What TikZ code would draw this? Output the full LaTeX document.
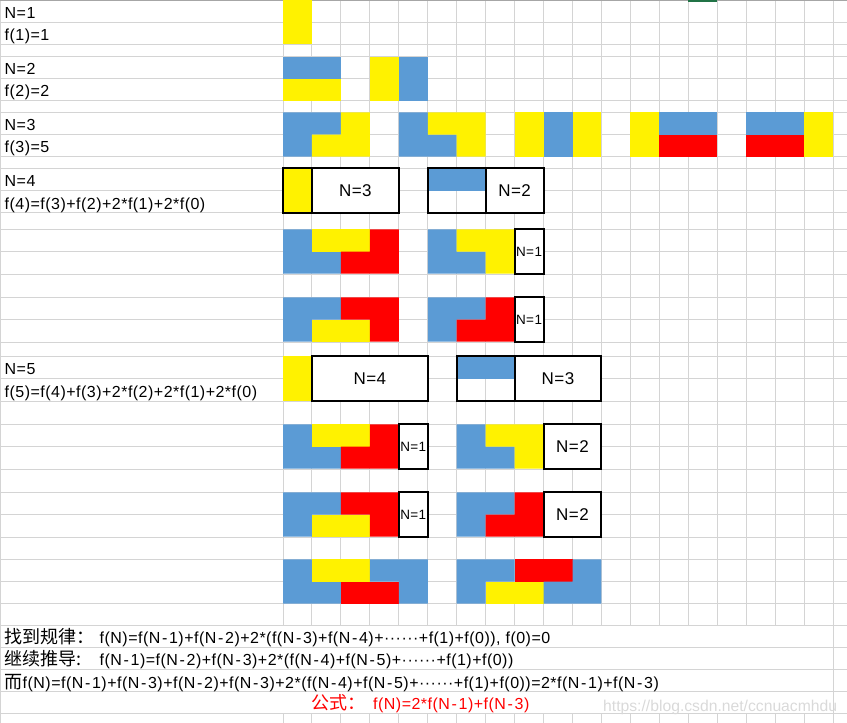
\documentclass[tikz,border=0pt]{standalone}
\usepackage{fontspec}
\setmainfont{Liberation Sans}[LetterSpace=3]
\newfontfamily\cjk{Noto Sans CJK SC}
\newfontfamily\markfont{Liberation Sans}
\newcommand\hanzi[1]{{\cjk\fontsize{18}{20}\selectfont #1}}
\newcommand\hy{\kern1.7pt-\kern1.7pt}
\definecolor{tileblue}{HTML}{5B9BD5}
\definecolor{gridgray}{HTML}{D4D4D4}
\definecolor{topgray}{HTML}{A6A6A6}
\definecolor{selgreen}{HTML}{217346}
\definecolor{markgray}{HTML}{D9D9D9}
\tikzset{
  gridline/.style={draw=gridgray, line width=1pt},
  frame/.style={draw=black, line width=2pt},
  textbox/.style={frame, fill=white},
  celltext/.style={anchor=base west, inner sep=0pt, font=\fontsize{16}{19}\selectfont},
  boxtext/.style={inner sep=0pt, font=\fontsize{17}{20}\selectfont},
  smalltext/.style={inner sep=0pt, font=\fontsize{13.5}{16}\selectfont},
  pair/.style={shift={(283,#1)}, x=28.95pt, y=-22.2pt},
}
\begin{document}
\begin{tikzpicture}[x=1pt, y=-1pt]
\useasboundingbox (0,0) rectangle (847,723);
% sheet grid
\foreach \r in {22.3,44.3,56.7,78.3,100.3,112.3,134.3,156.3,168.3,190.3,212.7,
    229.3,251.3,274,297.3,319.3,342.3,356.3,378.3,401.3,424.3,446.7,469.3,
    492.3,514.3,537.3,559.3,581.3,603.3,625.3,647.3,669.3,691.7,713.3}
  \draw[gridline] (0,\r) -- (847,\r);
\foreach \c in {0,...,19} {
  \draw[gridline] ({283+28.95*\c},0) -- ({283+28.95*\c},625.3);
  \draw[gridline] ({283+28.95*\c},713.3) -- ({283+28.95*\c},723);
}
\draw[gridline] (0.5,0) -- (0.5,723);
\draw[gridline] ({283+28.95*19},625.3) -- ({283+28.95*19},713.3);
\draw[topgray, line width=1pt] (0,0.5) -- (847,0.5);
\draw[selgreen, line width=1.5pt] ({283+28.95*14},0.75) -- ({283+28.95*15},0.75);

% N=1
\begin{scope}[pair=0]
  \fill[yellow] (0,0) rectangle (1,2);
\end{scope}
% N=2
\begin{scope}[pair=56.7]
  \fill[tileblue] (0,0) rectangle (2,1);
  \fill[yellow] (0,1) rectangle (2,2);
  \fill[yellow] (3,0) rectangle (4,2);
  \fill[tileblue] (4,0) rectangle (5,2);
\end{scope}
% N=3
\begin{scope}[pair=112.3]
  \fill[tileblue] (0,0) -- (2,0) -- (2,1) -- (1,1) -- (1,2) -- (0,2) -- cycle;
  \fill[yellow] (2,0) -- (3,0) -- (3,2) -- (1,2) -- (1,1) -- (2,1) -- cycle;
  \fill[tileblue] (4,0) -- (5,0) -- (5,1) -- (6,1) -- (6,2) -- (4,2) -- cycle;
  \fill[yellow] (5,0) -- (7,0) -- (7,2) -- (6,2) -- (6,1) -- (5,1) -- cycle;
  \fill[yellow] (8,0) rectangle (9,2);
  \fill[tileblue] (9,0) rectangle (10,2);
  \fill[yellow] (10,0) rectangle (11,2);
  \fill[yellow] (12,0) rectangle (13,2);
  \fill[tileblue] (13,0) rectangle (15,1);
  \fill[red] (13,1) rectangle (15,2);
  \fill[tileblue] (16,0) rectangle (18,1);
  \fill[red] (16,1) rectangle (18,2);
  \fill[yellow] (18,0) rectangle (19,2);
\end{scope}
% N=4
\begin{scope}[pair=168.3]
  \fill[yellow] (0,0) rectangle (1,2);
  \draw[textbox] (1,0) rectangle (4,2);
  \draw[frame] (0,0) rectangle (4,2);
  \node[boxtext] (four3) at (2.5,1) {N=3};
  \fill[tileblue] (5,0) rectangle (7,1);
  \draw[textbox] (7,0) rectangle (9,2);
  \draw[frame] (5,0) rectangle (9,2);
  \node[boxtext] (four2) at (8,1) {N=2};
\end{scope}
\begin{scope}[pair=229.3]
  \fill[tileblue] (0,0) -- (1,0) -- (1,1) -- (2,1) -- (2,2) -- (0,2) -- cycle;
  \fill[yellow] (1,0) rectangle (3,1);
  \fill[red] (2,1) -- (3,1) -- (3,0) -- (4,0) -- (4,2) -- (2,2) -- cycle;
  \fill[tileblue] (5,0) -- (6,0) -- (6,1) -- (7,1) -- (7,2) -- (5,2) -- cycle;
  \fill[yellow] (6,0) -- (8,0) -- (8,2) -- (7,2) -- (7,1) -- (6,1) -- cycle;
  \draw[textbox] (8,0) rectangle (9,2);
  \node[smalltext] (four1a) at (8.5,1) {N=1};
\end{scope}
\begin{scope}[pair=297.3]
  \fill[tileblue] (0,0) -- (2,0) -- (2,1) -- (1,1) -- (1,2) -- (0,2) -- cycle;
  \fill[yellow] (1,1) rectangle (3,2);
  \fill[red] (2,0) -- (4,0) -- (4,2) -- (3,2) -- (3,1) -- (2,1) -- cycle;
  \fill[tileblue] (5,0) -- (7,0) -- (7,1) -- (6,1) -- (6,2) -- (5,2) -- cycle;
  \fill[red] (7,0) -- (8,0) -- (8,2) -- (6,2) -- (6,1) -- (7,1) -- cycle;
  \draw[textbox] (8,0) rectangle (9,2);
  \node[smalltext] (four1b) at (8.5,1) {N=1};
\end{scope}
% N=5
\begin{scope}[pair=356.3]
  \fill[yellow] (0,0) rectangle (1,2);
  \draw[textbox] (1,0) rectangle (5,2);
  \node[boxtext] (five4) at (3,1) {N=4};
  \fill[tileblue] (6,0) rectangle (8,1);
  \draw[textbox] (8,0) rectangle (11,2);
  \draw[frame] (6,0) rectangle (11,2);
  \node[boxtext] (five3) at (9.5,1) {N=3};
\end{scope}
\begin{scope}[pair=424.3]
  \fill[tileblue] (0,0) -- (1,0) -- (1,1) -- (2,1) -- (2,2) -- (0,2) -- cycle;
  \fill[yellow] (1,0) rectangle (3,1);
  \fill[red] (2,1) -- (3,1) -- (3,0) -- (4,0) -- (4,2) -- (2,2) -- cycle;
  \draw[textbox] (4,0) rectangle (5,2);
  \node[smalltext] (five1a) at (4.5,1) {N=1};
  \fill[tileblue] (6,0) -- (7,0) -- (7,1) -- (8,1) -- (8,2) -- (6,2) -- cycle;
  \fill[yellow] (7,0) -- (9,0) -- (9,2) -- (8,2) -- (8,1) -- (7,1) -- cycle;
  \draw[textbox] (9,0) rectangle (11,2);
  \node[boxtext] (five2a) at (10,1) {N=2};
\end{scope}
\begin{scope}[pair=492.3]
  \fill[tileblue] (0,0) -- (2,0) -- (2,1) -- (1,1) -- (1,2) -- (0,2) -- cycle;
  \fill[yellow] (1,1) rectangle (3,2);
  \fill[red] (2,0) -- (4,0) -- (4,2) -- (3,2) -- (3,1) -- (2,1) -- cycle;
  \draw[textbox] (4,0) rectangle (5,2);
  \node[smalltext] (five1b) at (4.5,1) {N=1};
  \fill[tileblue] (6,0) -- (8,0) -- (8,1) -- (7,1) -- (7,2) -- (6,2) -- cycle;
  \fill[red] (8,0) -- (9,0) -- (9,2) -- (7,2) -- (7,1) -- (8,1) -- cycle;
  \draw[textbox] (9,0) rectangle (11,2);
  \node[boxtext] (five2b) at (10,1) {N=2};
\end{scope}
\begin{scope}[pair=559.3]
  \fill[tileblue] (0,0) -- (1,0) -- (1,1) -- (2,1) -- (2,2) -- (0,2) -- cycle;
  \fill[yellow] (1,0) rectangle (3,1);
  \fill[red] (2,1) rectangle (4,2);
  \fill[tileblue] (3,0) -- (5,0) -- (5,2) -- (4,2) -- (4,1) -- (3,1) -- cycle;
  \fill[tileblue] (6,0) -- (8,0) -- (8,1) -- (7,1) -- (7,2) -- (6,2) -- cycle;
  \fill[red] (8,0) rectangle (10,1);
  \fill[yellow] (7,1) rectangle (9,2);
  \fill[tileblue] (10,0) -- (11,0) -- (11,2) -- (9,2) -- (9,1) -- (10,1) -- cycle;
\end{scope}

% column A
\node[celltext] (n1) at (4.5,18.8) {N=1};
\node[celltext] (f1) at (4.5,40.8) {f(1)=1};
\node[celltext] (n2) at (4.5,74.8) {N=2};
\node[celltext] (f2) at (4.5,96.8) {f(2)=2};
\node[celltext] (n3) at (4.5,130.8) {N=3};
\node[celltext] (f3) at (4.5,152.8) {f(3)=5};
\node[celltext] (n4) at (4.5,186.8) {N=4};
\node[celltext] (f4) at (4.5,209.2) {f(4)=f(3)+f(2)+2*f(1)+2*f(0)};
\node[celltext] (n5) at (4.5,374.8) {N=5};
\node[celltext] (f5) at (4.5,397.8) {f(5)=f(4)+f(3)+2*f(2)+2*f(1)+2*f(0)};

% derivation
\node[celltext] (rule) at (4.5,643.8)
  {\makebox[95pt][l]{\hanzi{找到规律：}}f(N)=f(N\hy1)+f(N\hy2)+2*(f(N\hy3)+f(N\hy4)+······+f(1)+f(0)), f(0)=0};
\node[celltext] (step) at (4.5,665.8)
  {\makebox[95pt][l]{\hanzi{继续推导:}}f(N\hy1)=f(N\hy2)+f(N\hy3)+2*(f(N\hy4)+f(N\hy5)+······+f(1)+f(0))};
\node[celltext] (diff) at (4.5,688.2)
  {\hanzi{而}f(N)=f(N\hy1)+f(N\hy3)+f(N\hy2)+f(N\hy3)+2*(f(N\hy4)+f(N\hy5)+······+f(1)+f(0))=2*f(N\hy1)+f(N\hy3)};
\node[celltext, text=red] (formula) at (311,709.8)
  {\makebox[62pt][l]{\hanzi{公式：}}f(N)=2*f(N\hy1)+f(N\hy3)};
\node[celltext, text=markgray, font=\markfont\fontsize{15.7}{18}\selectfont] (mark) at (603,711)
  {https://blog.csdn.net/ccnuacmhdu};
\end{tikzpicture}
\end{document}
